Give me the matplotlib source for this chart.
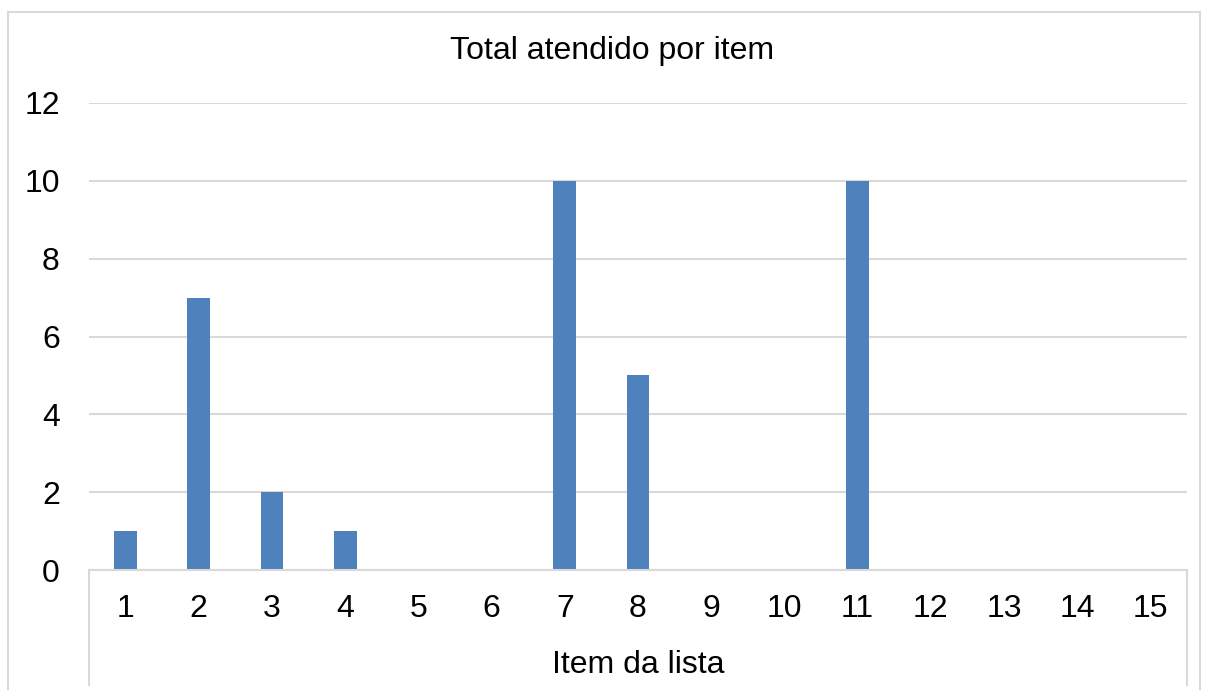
import matplotlib
matplotlib.use("Agg")
import matplotlib.pyplot as plt
from matplotlib.patches import Rectangle
from matplotlib.lines import Line2D

plt.rcParams['font.family'] = ['Liberation Sans', 'DejaVu Sans']

items = list(range(1, 16))
totals = [1, 7, 2, 1, 0, 0, 10, 5, 0, 0, 10, 0, 0, 0, 0]
tick_labels = [str(i) for i in items]

W, H = 1205, 690
fig = plt.figure(figsize=(W / 100, H / 100), dpi=100)

# outer chart border (bottom edge is cut off in the reference)
fig.patches.append(Rectangle((8 / W, -0.02), (1200 - 8) / W, 1 - 12 / H + 0.02,
                             transform=fig.transFigure, fill=False,
                             edgecolor='#d9d9d9', linewidth=1.5))

ax = fig.add_axes([89 / W, 1 - 570 / H, (1187 - 89) / W, (570 - 103) / H])
ax.bar(items, totals, width=0.31, color='#4f81bd', zorder=3)

ax.set_xlim(0.5, 15.5)
ax.set_ylim(0, 12)
ax.set_yticks(range(0, 13, 2))
ax.set_xticks(items)
ax.set_xticklabels(tick_labels)
ax.grid(axis='y', color='#d9d9d9', linewidth=1.5, zorder=0)
for s in ax.spines.values():
    s.set_visible(False)
ax.tick_params(axis='both', length=0, labelsize=23, colors='black')
ax.tick_params(axis='x', pad=17)
ax.tick_params(axis='y', pad=21)

# excel style category axis box
ax.add_line(Line2D([0, 1], [0, 0], transform=ax.transAxes, color='#d9d9d9',
                   linewidth=1.5, clip_on=False, zorder=4))
for xx in (0, 1):
    ax.add_line(Line2D([xx, xx], [0, -115 / (570 - 103)], transform=ax.transAxes,
                       color='#d9d9d9', linewidth=1.5, clip_on=False))

fig.text(612 / W, 1 - 51 / H, 'Total atendido por item', ha='center', va='center', fontsize=23)
fig.text(638 / W, 1 - 665 / H, 'Item da lista', ha='center', va='center', fontsize=23)

fig.savefig('out.png', dpi=100, facecolor='white')
